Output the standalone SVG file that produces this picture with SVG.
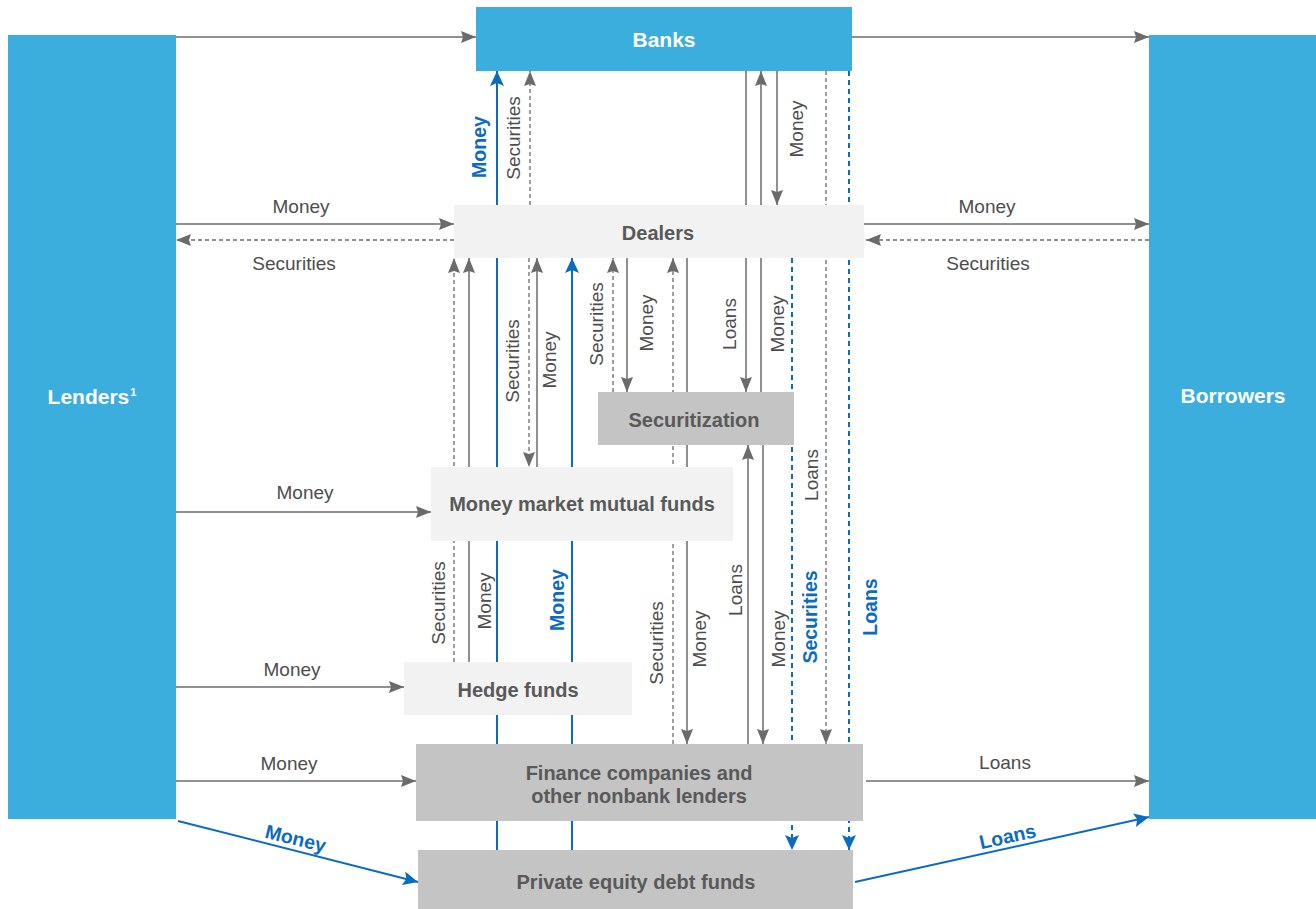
<svg xmlns="http://www.w3.org/2000/svg" width="1316" height="909" viewBox="0 0 1316 909">
<style>
.big{fill:#3BAEDE}
.light{fill:#F2F2F2}
.dark{fill:#C4C4C4}
.bt{font-family:"Liberation Sans",Arial,sans-serif;font-weight:bold;font-size:21px;fill:#ffffff;text-anchor:middle}
.nt{font-family:"Liberation Sans",Arial,sans-serif;font-weight:bold;font-size:20px;fill:#595959;text-anchor:middle}
.lt{font-family:"Liberation Sans",Arial,sans-serif;font-size:19px;fill:#4d4d4d;text-anchor:middle}
.blt{font-family:"Liberation Sans",Arial,sans-serif;font-weight:bold;font-size:19.5px;fill:#0B6CBF;text-anchor:middle}
.g{stroke:#6b6b6b;stroke-width:1.5;fill:none}
.gd{stroke:#6b6b6b;stroke-width:1.3;fill:none;stroke-dasharray:4 3}
.b{stroke:#0B6CBF;stroke-width:2;fill:none}
.bd{stroke:#0B6CBF;stroke-width:2;fill:none;stroke-dasharray:5 4}
.ga{marker-end:url(#ag)}
.ba{marker-end:url(#ab)}
</style>
<defs>
<marker id="ag" markerUnits="userSpaceOnUse" markerWidth="16" markerHeight="12" refX="15" refY="6" orient="auto">
<path d="M0,0 L15,6 L0,12 L2,6 z" fill="#6b6b6b"/>
</marker>
<marker id="ab" markerUnits="userSpaceOnUse" markerWidth="16" markerHeight="14" refX="15" refY="7" orient="auto">
<path d="M0,0 L15,7 L0,14 L3,7 z" fill="#0B6CBF"/>
</marker>
</defs>
<rect width="1316" height="909" fill="#ffffff"/>
<g id="connectors">
<line class="g ga" x1="176" y1="37" x2="476" y2="37"/>
<line class="g ga" x1="852" y1="37" x2="1149" y2="37"/>
<line class="g ga" x1="176" y1="224" x2="454" y2="224"/>
<line class="gd ga" x1="454" y1="240" x2="176" y2="240"/>
<line class="g ga" x1="864" y1="224" x2="1149" y2="224"/>
<line class="gd ga" x1="1149" y1="240" x2="866" y2="240"/>
<line class="g ga" x1="176" y1="512" x2="431" y2="512"/>
<line class="g ga" x1="176" y1="687" x2="404" y2="687"/>
<line class="g ga" x1="176" y1="781" x2="416" y2="781"/>
<line class="g ga" x1="866" y1="781" x2="1149" y2="781"/>
<line class="b ba" x1="178" y1="821" x2="418" y2="882"/>
<line class="b ba" x1="855" y1="882" x2="1149" y2="817"/>
<line class="gd ga" x1="454" y1="662" x2="454" y2="258"/>
<line class="g ga" x1="469" y1="662" x2="469" y2="258"/>
<line class="b ba" x1="497" y1="850" x2="497" y2="71"/>
<line class="gd ga" x1="530" y1="205" x2="530" y2="71"/>
<line class="gd ga" x1="529" y1="258" x2="529" y2="467"/>
<line class="g ga" x1="537" y1="467" x2="537" y2="258"/>
<line class="b ba" x1="572" y1="850" x2="572" y2="258"/>
<line class="gd ga" x1="613" y1="392" x2="613" y2="258"/>
<line class="g ga" x1="627" y1="258" x2="627" y2="392"/>
<line class="gd ga" x1="673" y1="744" x2="673" y2="258"/>
<line class="g ga" x1="687" y1="258" x2="687" y2="744"/>
<line class="g ga" x1="746" y1="71" x2="746" y2="392"/>
<line class="g ga" x1="761" y1="392" x2="761" y2="71"/>
<line class="g ga" x1="777" y1="71" x2="777" y2="205"/>
<line class="g ga" x1="748" y1="744" x2="748" y2="445"/>
<line class="g ga" x1="763" y1="445" x2="763" y2="744"/>
<line class="bd ba" x1="792" y1="258" x2="792" y2="850"/>
<line class="gd ga" x1="826" y1="71" x2="826" y2="744"/>
<line class="bd ba" x1="849" y1="71" x2="849" y2="850"/>
<text class="lt" x="301" y="213">Money</text>
<text class="lt" x="294" y="270">Securities</text>
<text class="lt" x="987" y="213">Money</text>
<text class="lt" x="988" y="270">Securities</text>
<text class="lt" x="305" y="499">Money</text>
<text class="lt" x="292" y="676">Money</text>
<text class="lt" x="289" y="770">Money</text>
<text class="lt" x="1005" y="769">Loans</text>
<text class="blt" transform="translate(294,845) rotate(14.1)">Money</text>
<text class="blt" transform="translate(1009,843) rotate(-12.5)">Loans</text>
<text class="blt" transform="translate(486,147) rotate(-90)">Money</text>
<text class="lt" transform="translate(520,138) rotate(-90)">Securities</text>
<text class="lt" transform="translate(803,129) rotate(-90)">Money</text>
<text class="lt" transform="translate(519,361) rotate(-90)">Securities</text>
<text class="lt" transform="translate(556,360) rotate(-90)">Money</text>
<text class="lt" transform="translate(603,324) rotate(-90)">Securities</text>
<text class="lt" transform="translate(653,323) rotate(-90)">Money</text>
<text class="lt" transform="translate(736,324) rotate(-90)">Loans</text>
<text class="lt" transform="translate(784,324) rotate(-90)">Money</text>
<text class="lt" transform="translate(818,475) rotate(-90)">Loans</text>
<text class="lt" transform="translate(445,603) rotate(-90)">Securities</text>
<text class="lt" transform="translate(491,601) rotate(-90)">Money</text>
<text class="blt" transform="translate(564,600) rotate(-90)">Money</text>
<text class="lt" transform="translate(663,643) rotate(-90)">Securities</text>
<text class="lt" transform="translate(706,639) rotate(-90)">Money</text>
<text class="lt" transform="translate(742,590) rotate(-90)">Loans</text>
<text class="lt" transform="translate(785,639) rotate(-90)">Money</text>
<text class="blt" transform="translate(817,617) rotate(-90)">Securities</text>
<text class="blt" transform="translate(877,607) rotate(-90)">Loans</text>
</g>
<g id="lenders">
<rect class="big" x="8" y="35" width="168" height="784"/>
<text class="bt" x="92" y="404">Lenders<tspan font-size="11" dx="1" dy="-8">1</tspan></text>
</g>
<g id="borrowers">
<rect class="big" x="1149" y="35" width="167" height="784"/>
<text class="bt" x="1233" y="403">Borrowers</text>
</g>
<g id="banks">
<rect class="big" x="476" y="7" width="376" height="64"/>
<text class="bt" x="664" y="47">Banks</text>
</g>
<g id="dealers">
<rect class="light" x="454" y="205" width="410" height="53"/>
<text class="nt" x="658" y="240">Dealers</text>
</g>
<g id="securitization">
<rect class="dark" x="598" y="392" width="196" height="53"/>
<text class="nt" x="694" y="427">Securitization</text>
</g>
<g id="mmmf">
<rect class="light" x="431" y="467" width="302" height="74"/>
<text class="nt" x="582" y="511">Money market mutual funds</text>
</g>
<g id="hedge">
<rect class="light" x="404" y="662" width="228" height="53"/>
<text class="nt" x="518" y="697">Hedge funds</text>
</g>
<g id="finance">
<rect class="dark" x="416" y="744" width="447" height="77"/>
<text class="nt" x="639" y="780">Finance companies and</text>
<text class="nt" x="639" y="803">other nonbank lenders</text>
</g>
<g id="pe">
<rect class="dark" x="418" y="850" width="435" height="59"/>
<text class="nt" x="636" y="889">Private equity debt funds</text>
</g>
</svg>
